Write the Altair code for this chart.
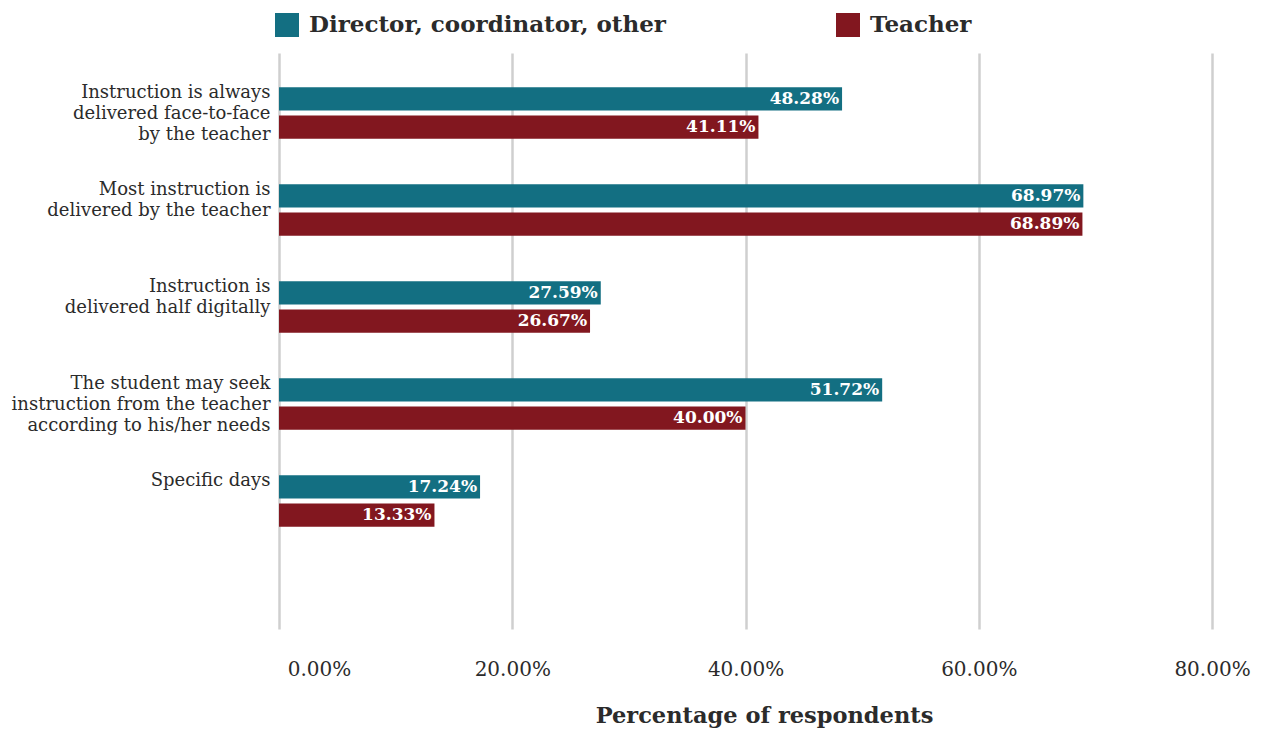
import altair as alt
import pandas as pd

categories = [
    "Instruction is always|delivered face-to-face|by the teacher",
    "Most instruction is|delivered by the teacher",
    "Instruction is|delivered half digitally",
    "The student may seek|instruction from the teacher|according to his/her needs",
    "Specific days",
]
series = ["Director, coordinator, other", "Teacher"]
director_values = [48.28, 68.97, 27.59, 51.72, 17.24]
teacher_values = [41.11, 68.89, 26.67, 40.00, 13.33]
x_ticks = [0, 20, 40, 60, 80]
colors = ["#136F82", "#82171F"]

rows = []
for c, d, t in zip(categories, director_values, teacher_values):
    rows.append({"category": c, "group": series[0], "value": d})
    rows.append({"category": c, "group": series[1], "value": t})
df = pd.DataFrame(rows)

FONT = "DejaVu Serif"

y_enc = alt.Y(
    "category:N",
    sort=categories,
    scale=alt.Scale(domain=categories, paddingInner=0.47, paddingOuter=0.704, align=0.251),
    axis=alt.Axis(
        title=None,
        domain=False,
        ticks=False,
        labelExpr="split(datum.label, '|')",
        labelFont=FONT,
        labelFontSize=18,
        labelColor="#2b2b2b",
        labelAlign="right",
        labelBaseline="top",
        labelLineHeight=21,
        labelOffset=-29,
        labelPadding=9,
        labelLimit=400,
    ),
)
yoff = alt.YOffset("group:N", sort=series, scale=alt.Scale(domain=series, paddingInner=0.18, paddingOuter=0))

base = alt.Chart(df)

bars = base.mark_bar().encode(
    x=alt.X(
        "value:Q",
        scale=alt.Scale(domain=[0, 80], nice=False),
        axis=alt.Axis(
            values=x_ticks,
            title="Percentage of respondents",
            titleFont=FONT,
            titleFontSize=22.5,
            titleFontWeight="bold",
            titleColor="#2b2b2b",
            titlePadding=25,
            titleX=485,
            labelExpr="format(datum.value, '.2f') + '%'",
            labelFont=FONT,
            labelFontSize=20,
            labelColor="#2b2b2b",
            labelPadding=30,
            labelFlush=False,
            labelOffset={"condition": {"test": "datum.value == 0", "value": 40}, "value": 0},
            domain=False,
            ticks=False,
            grid=True,
            gridColor="#cfcfcf",
            gridWidth=2.5,
        ),
    ),
    y=y_enc,
    yOffset=yoff,
    color=alt.Color(
        "group:N",
        sort=series,
        scale=alt.Scale(domain=series, range=colors),
        legend=alt.Legend(
            title=None,
            orient="none",
            legendX=-4,
            legendY=-40,
            direction="horizontal",
            symbolType="square",
            symbolSize=576,
            symbolStrokeWidth=0,
            symbolOpacity=1,
            labelFont=FONT,
            labelFontSize=23,
            labelFontWeight="bold",
            labelColor="#2b2b2b",
            labelOffset=10,
            columnPadding=170,
            labelLimit=600,
        ),
    ),
)

labels = base.transform_calculate(
    label="format(datum.value, '.2f') + '%'"
).mark_text(
    align="right", baseline="middle", dx=-3, color="white",
    font=FONT, fontSize=17, fontWeight="bold",
).encode(
    x="value:Q",
    y=alt.Y("category:N", sort=categories),
    yOffset=alt.YOffset("group:N", sort=series),
    text="label:N",
)

chart = alt.layer(bars, labels).properties(
    width=933, height=576,
    padding={"left": 3, "top": 5, "right": 5, "bottom": 5},
).configure(background="white").configure_view(strokeWidth=0)

chart.save("out.html", embed_options={"renderer": "svg", "actions": False})
